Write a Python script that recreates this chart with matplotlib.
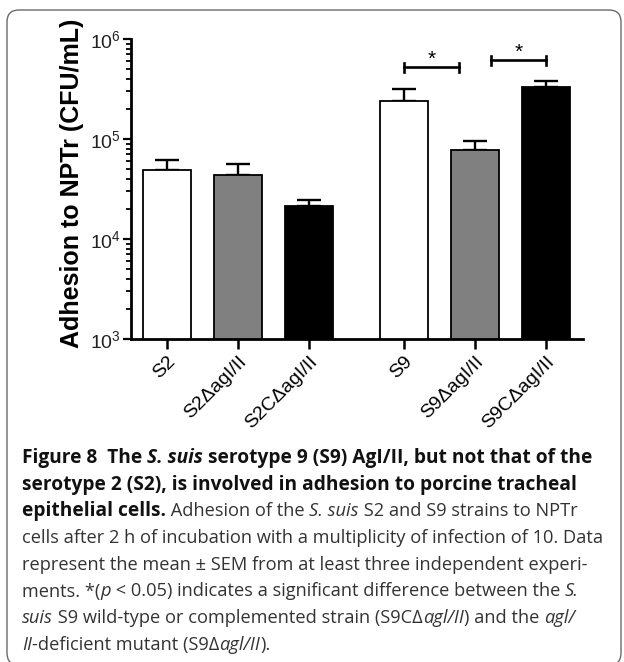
import matplotlib
matplotlib.use("Agg")
from matplotlib import pyplot as plt
from matplotlib.patches import FancyBboxPatch
from matplotlib.transforms import IdentityTransform
import numpy as np

# data
strains = ["S2", "S2\u0394agI/II", "S2C\u0394agI/II", "S9", "S9\u0394agI/II", "S9C\u0394agI/II"]
means = [48500, 43600, 21600, 238000, 77400, 329000]
sem = [13000, 12100, 2800, 78000, 17100, 54000]
colors = ["white", "#808080", "black", "white", "#808080", "black"]
positions = [0, 1, 2, 3.34, 4.34, 5.34]

plt.rcParams["font.family"] = ["Liberation Sans", "DejaVu Sans"]
plt.rcParams["mathtext.fontset"] = "custom"
plt.rcParams["mathtext.rm"] = "Liberation Sans"
plt.rcParams["mathtext.it"] = "Liberation Sans:italic"

fig = plt.figure(figsize=(6.24, 6.62), dpi=100)
W, H = 624, 662

# rounded frame around the figure (pixel coords, origin bottom-left)
frame = FancyBboxPatch((7, -3), 614, H - 10 + 3,
                       boxstyle="round,pad=0,rounding_size=12",
                       transform=IdentityTransform(), fill=False,
                       edgecolor="#6a6a6a", linewidth=1.0)
fig.patches.append(frame)

top, bottom, left, right = 39, 339, 131, 583
ax = fig.add_axes([left / W, 1 - bottom / H, (right - left) / W, (bottom - top) / H])
ax.bar(positions, means, width=0.67, color=colors, edgecolor="black",
       linewidth=1.3, zorder=2)
ax.errorbar(positions, means, yerr=[np.zeros(len(sem)), sem], fmt="none",
            ecolor="black", elinewidth=1.7, capsize=8.5, capthick=1.7, zorder=1)

ax.set_yscale("log")
ax.set_ylim(1e3, 1e6)
ax.set_xlim(-0.507, 5.86)
ax.set_xticks(positions)
ax.set_xticklabels(strains, rotation=45, ha="right", rotation_mode="anchor",
                   fontsize=14)
ax.set_yticks([1e3, 1e4, 1e5, 1e6])
ax.set_yticklabels([r"$10^{3}$", r"$10^{4}$", r"$10^{5}$", r"$10^{6}$"],
                   fontsize=14, color="#222222")
ax.tick_params(axis="x", length=7, width=1.8, pad=3)
ax.tick_params(axis="y", which="major", length=6, width=1.6, pad=1)
ax.tick_params(axis="y", which="minor", length=3.5, width=1.3)
for s in ["top", "right"]:
    ax.spines[s].set_visible(False)
for s in ["left", "bottom"]:
    ax.spines[s].set_linewidth(2.0)
ax.set_ylabel("Adhesion to NPTr (CFU/mL)", fontsize=18, fontweight="bold")
ax.yaxis.set_label_coords(-0.104, 0.52)

# significance brackets
brackets = [(positions[3], positions[3] + 0.78, 5.2e5),
            (positions[5] - 0.78, positions[5], 6.1e5)]
for x0, x1, yb in brackets:
    ax.plot([x0, x1], [yb, yb], color="black", lw=1.9, clip_on=False)
    for xx in (x0, x1):
        ax.plot([xx, xx], [yb / 1.1, yb * 1.1], color="black", lw=1.9,
                clip_on=False)
    ax.annotate("*", xy=((x0 + x1) / 2, yb), xytext=(0, 2),
                textcoords="offset points", ha="center", va="baseline",
                fontsize=15)

# caption
cap_font = ["Open Sans", "DejaVu Sans"]
lines = [
    [("Figure 8  The ", "bold", "normal"), ("S. suis", "bold", "italic"),
     (" serotype 9 (S9) AgI/II, but not that of the", "bold", "normal")],
    [("serotype 2 (S2), is involved in adhesion to porcine tracheal", "bold", "normal")],
    [("epithelial cells.", "bold", "normal"), (" Adhesion of the ", "normal", "normal"),
     ("S. suis", "normal", "italic"), (" S2 and S9 strains to NPTr", "normal", "normal")],
    [("cells after 2 h of incubation with a multiplicity of infection of 10. Data", "normal", "normal")],
    [("represent the mean \u00b1 SEM from at least three independent experi-", "normal", "normal")],
    [("ments. *(", "normal", "normal"), ("p", "normal", "italic"),
     (" < 0.05) indicates a significant difference between the ", "normal", "normal"),
     ("S.", "normal", "italic")],
    [("suis", "normal", "italic"), (" S9 wild-type or complemented strain (S9C\u0394", "normal", "normal"),
     ("agl/II", "normal", "italic"), (") and the ", "normal", "normal"),
     ("agl/", "normal", "italic")],
    [("II", "normal", "italic"), ("-deficient mutant (S9\u0394", "normal", "normal"),
     ("agl/II", "normal", "italic"), (").", "normal", "normal")],
]

renderer = fig.canvas.get_renderer()

# font size chosen so the 4th caption line spans the same width as in the original
probe = fig.text(0, 0, lines[3][0][0], fontsize=10, family=cap_font)
w10 = probe.get_window_extent(renderer).width
probe.remove()
cap_size = 10 * (583 / w10)

x_left = 22
base0 = 463
step = 26.7
for i, parts in enumerate(lines):
    x = x_left
    y = base0 + i * step
    for txt, weight, style in parts:
        size = cap_size * 1.05 if weight == "bold" else cap_size
        t = fig.text(x / W, 1 - y / H, txt, fontsize=size, family=cap_font,
                     fontweight=weight, fontstyle=style, va="baseline",
                     ha="left", color="#111111" if weight == "bold" else "#333333")
        x += t.get_window_extent(renderer).width

fig.savefig("out.png", dpi=100)
